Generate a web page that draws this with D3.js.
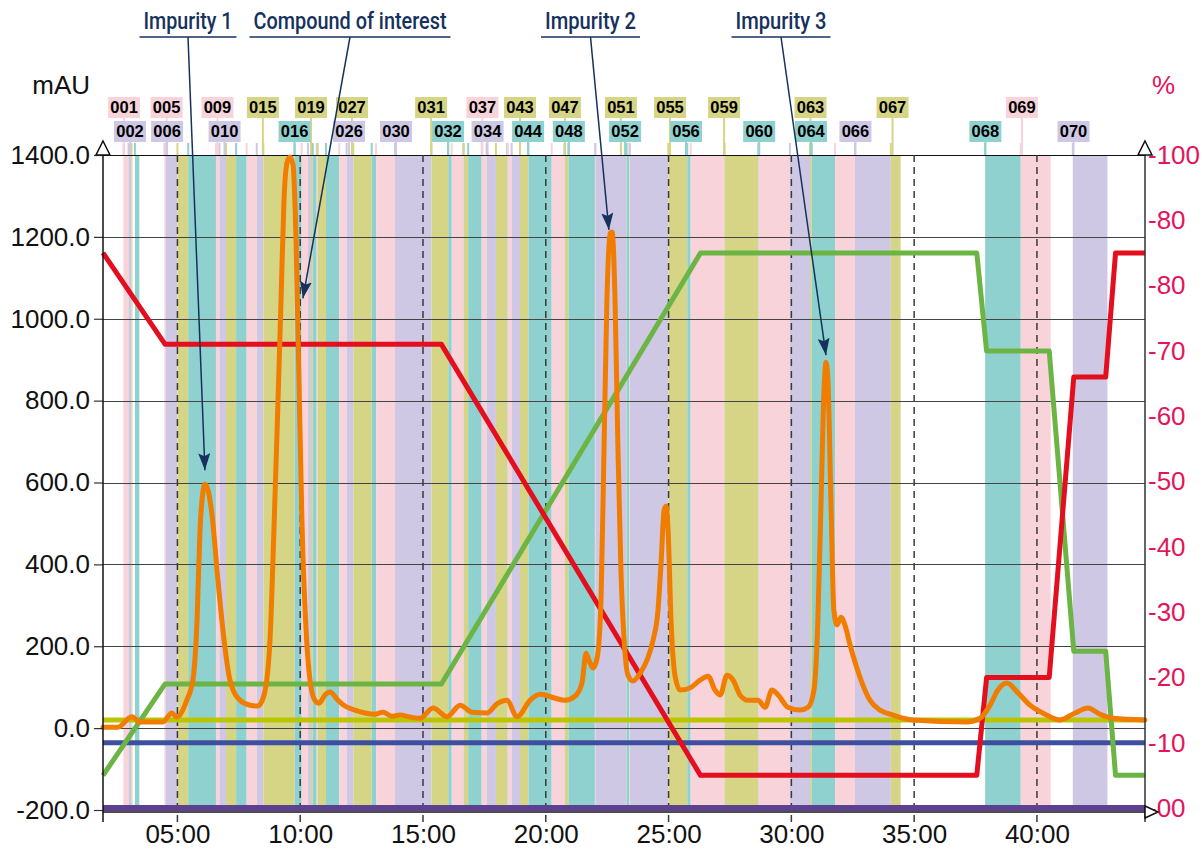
<!DOCTYPE html>
<html><head><meta charset="utf-8">
<script src="https://cdn.jsdelivr.net/npm/d3@7/dist/d3.min.js"></script>
<style>body{margin:0;background:#fff;} svg{display:block;}</style>
</head><body>
<svg id="chart" width="1204" height="849"></svg>
<script>
// ---------------- DATA ----------------
const traceTime = [1.97, 2.58, 3.14, 3.48, 4.41, 4.77, 4.97, 5.38, 5.63, 5.80,
  5.92, 6.04, 6.12, 6.25, 6.41, 6.65, 6.90, 7.14, 7.55, 7.96,
  8.28, 8.53, 8.77, 8.93, 9.06, 9.22, 9.34, 9.47, 9.58, 9.71,
  9.83, 9.95, 10.07, 10.24, 10.40, 10.60, 10.77, 11.01, 11.21, 11.54,
  11.82, 12.23, 12.64, 13.05, 13.37, 13.74, 14.06, 14.47, 14.88, 15.41,
  15.98, 16.51, 16.99, 17.61, 18.01, 18.42, 18.83, 19.36, 19.77, 20.38,
  20.78, 21.19, 21.48, 21.64, 21.76, 21.92, 22.09, 22.25, 22.37, 22.49,
  22.62, 22.70, 22.82, 22.94, 23.06, 23.19, 23.35, 23.55, 23.84, 24.12,
  24.37, 24.57, 24.69, 24.82, 24.90, 24.98, 25.10, 25.26, 25.47, 25.87,
  26.28, 26.61, 26.89, 27.10, 27.38, 27.63, 27.91, 28.24, 28.64, 28.93,
  29.21, 29.46, 29.86, 30.35, 30.68, 30.92, 31.08, 31.21, 31.33, 31.41,
  31.49, 31.61, 31.73, 31.86, 32.02, 32.18, 32.39, 32.63, 32.88, 33.20,
  33.61, 34.02, 34.95, 37.15, 37.68, 38.09, 38.41, 38.78, 39.23, 39.72,
  40.33, 40.94, 41.55, 42.08, 42.57, 43.10, 44.40];
const traceMAU = [2, 2, 28, 15, 15, 37, 27, 68, 117, 264,
  484, 577, 596, 581, 520, 362, 215, 117, 68, 56,
  54, 81, 215, 484, 728, 1046, 1290, 1383, 1395, 1375,
  1192, 850, 508, 239, 117, 68, 61, 81, 88, 68,
  54, 44, 37, 34, 39, 29, 32, 27, 24, 49,
  28, 56, 39, 37, 59, 68, 28, 68, 83, 73,
  68, 78, 112, 183, 166, 147, 171, 313, 679, 1046,
  1209, 1212, 1046, 679, 386, 215, 129, 115, 134, 166,
  215, 288, 398, 533, 542, 484, 264, 129, 93, 98,
  117, 127, 93, 81, 129, 117, 81, 68, 68, 51,
  93, 81, 51, 44, 51, 93, 264, 557, 826, 894,
  850, 557, 288, 252, 271, 252, 203, 154, 110, 68,
  44, 34, 20, 15, 24, 56, 93, 110, 86, 56,
  34, 20, 37, 49, 34, 24, 20];

const gradTime = [1.97, 4.5, 15.75, 26.3, 37.55, 37.95, 40.5, 41.5, 42.8, 43.2, 44.4];
const solventRed = [85, 71, 71, 5, 5, 20, 20, 66, 66, 85, 85];
const solventGreen = [5, 19, 19, 85, 85, 70, 70, 24, 24, 5, 5];

const thresholdMAU = 20;   // yellow-green level line
const blueLevelPct = 10;   // blue level line
const purpleLevelPct = 0;  // purple base line

const fractionStart = [2.80, 3.01, 3.13, 3.27, 4.47, 4.52, 5.00, 5.44, 6.57, 6.71,
  6.98, 7.39, 7.82, 8.23, 8.50, 9.77, 10.06, 10.32, 10.44, 10.51,
  10.67, 10.69, 10.71, 11.05, 11.59, 11.89, 12.16, 12.91, 13.09, 13.86,
  15.35, 16.03, 16.17, 16.64, 16.66, 16.84, 17.39, 17.59, 17.97, 18.43,
  18.45, 18.61, 18.95, 19.29, 20.24, 20.76, 20.78, 20.92, 22.00, 22.02,
  23.27, 23.29, 23.40, 23.42, 24.99, 25.76, 25.90, 27.26, 27.28, 28.65,
  28.67, 29.94, 30.76, 30.83, 31.78, 32.59, 34.05, 37.89, 39.34, 41.46];
const fractionEnd = [3.01, 3.13, 3.17, 3.45, 4.52, 5.00, 5.44, 6.57, 6.71, 6.98,
  7.39, 7.82, 8.23, 8.50, 9.77, 10.06, 10.32, 10.44, 10.51, 10.67,
  10.69, 10.71, 11.05, 11.59, 11.89, 12.16, 12.91, 13.09, 13.86, 15.35,
  16.03, 16.17, 16.64, 16.66, 16.84, 17.39, 17.59, 17.97, 18.43, 18.45,
  18.61, 18.95, 19.29, 20.24, 20.76, 20.78, 20.92, 22.00, 22.02, 23.27,
  23.29, 23.40, 23.42, 24.99, 25.76, 25.90, 27.26, 27.28, 28.65, 28.67,
  29.94, 30.76, 30.83, 31.78, 32.59, 34.05, 34.45, 39.34, 40.56, 42.87];

const labeledFractions = [1, 2, 5, 6, 9, 10, 15, 16, 19, 26, 27, 30, 31, 32, 34, 37, 43, 44,
  47, 48, 51, 52, 55, 56, 59, 60, 63, 64, 66, 67, 68, 69, 70];
const labelTimes = [2.83, 3.07, 4.56, 4.58, 6.63, 6.92, 8.48, 9.77, 10.44, 11.99, 12.11, 13.90,
  15.33, 16.02, 17.63, 17.42, 18.95, 19.28, 20.78, 20.94, 23.06, 23.23, 25.06, 25.71,
  27.26, 28.69, 30.78, 30.80, 32.61, 34.12, 37.90, 39.39, 41.49];

const leftTicks = [1400, 1200, 1000, 800, 600, 400, 200, 0, -200];
const leftTickLabels = ["1400.0", "1200.0", "1000.0", "800.0", "600.0", "400.0", "200.0", "0.0", "-200.0"];
const rightTicks = [100, 90, 80, 70, 60, 50, 40, 30, 20, 10, 0];
const rightTickLabels = ["-100", "-80", "-80", "-70", "-60", "-50", "-40", "-30", "-20", "-10", "-00"];
const xTicks = [5, 10, 15, 20, 25, 30, 35, 40];
const xTickLabels = ["05:00", "10:00", "15:00", "20:00", "25:00", "30:00", "35:00", "40:00"];

const annotationNames = ["Impurity 1", "Compound of interest", "Impurity 2", "Impurity 3"];
const annotationTime = [6.12, 10.11, 22.57, 31.41];
const annotationMAU = [630, 1050, 1217, 911];

// ---------------- LAYOUT / STYLE ----------------
const L = 103, R = 1145, T = 155, B = 812;
const fracColors = ["#f8d3da", "#cfc8e4", "#d6d586", "#8fd1cf"];
const annX = [188, 350, 590.5, 781];
const annW = [89, 193, 91, 91];
const navy = "#16325c";
const crimson = "#e4145c";
const axisFont = "'Liberation Sans', Arial, sans-serif";

const svg = d3.select("#chart");
const x = d3.scaleLinear().domain([1.97, 44.4]).range([L, R]);
const y = d3.scaleLinear().domain([-200, 1400]).range([810, T]);
const yR = d3.scaleLinear().domain([0, 100]).range([808, T]);

// fraction bands
const fr = d3.range(fractionStart.length).map(i => ({n: i + 1, s: fractionStart[i], e: fractionEnd[i]}));
svg.append("g").selectAll("rect").data(fr).join("rect")
  .attr("x", d => x(d.s)).attr("width", d => Math.max(0, x(d.e) - x(d.s)))
  .attr("y", T).attr("height", 810 - T)
  .attr("fill", d => fracColors[(d.n - 1) % 4]);

// short stems at fraction starts
svg.append("g").selectAll("line").data(fr).join("line")
  .attr("x1", d => x(d.s)).attr("x2", d => x(d.s))
  .attr("y1", 143).attr("y2", T)
  .attr("stroke", d => fracColors[(d.n - 1) % 4]).attr("stroke-width", 2);

// labels
const labs = labeledFractions.map((n, i) => ({n, t: labelTimes[i], row: n % 2 === 1 ? 0 : 1}));
const rowTop = [97, 121], boxH = 21, boxW = 32;
svg.append("g").selectAll("line").data(labs).join("line")
  .attr("x1", d => x(d.t)).attr("x2", d => x(d.t))
  .attr("y1", d => rowTop[d.row] + boxH).attr("y2", T)
  .attr("stroke", d => fracColors[(d.n - 1) % 4]).attr("stroke-width", 2);
const lg = svg.append("g").selectAll("g").data(labs.slice().sort((a, b) => a.row - b.row)).join("g");
lg.append("rect")
  .attr("x", d => x(d.t) - boxW / 2).attr("y", d => rowTop[d.row])
  .attr("width", boxW).attr("height", boxH)
  .attr("fill", d => fracColors[(d.n - 1) % 4]);
lg.append("text")
  .attr("x", d => x(d.t)).attr("y", d => rowTop[d.row] + boxH / 2)
  .attr("dy", "0.36em").attr("text-anchor", "middle")
  .attr("font-family", axisFont).attr("font-weight", "bold").attr("font-size", 16.5)
  .attr("fill", "#000").text(d => String(d.n).padStart(3, "0"));

// gridlines
svg.append("g").selectAll("line").data(leftTicks).join("line")
  .attr("x1", L).attr("x2", R).attr("y1", d => Math.round(y(d)) + 0.5).attr("y2", d => Math.round(y(d)) + 0.5)
  .attr("stroke", (d, i) => i === 0 ? "#111" : "#444").attr("stroke-width", 1);

// dashed verticals
svg.append("g").selectAll("line").data(xTicks).join("line")
  .attr("x1", d => x(d)).attr("x2", d => x(d)).attr("y1", T).attr("y2", 822)
  .attr("stroke", "#3a3a3a").attr("stroke-width", 1.5).attr("stroke-dasharray", "7,5");

// level lines
svg.append("line").attr("x1", L).attr("x2", R).attr("y1", y(thresholdMAU)).attr("y2", y(thresholdMAU))
  .attr("stroke", "#bac500").attr("stroke-width", 5);
svg.append("line").attr("x1", L).attr("x2", R).attr("y1", yR(blueLevelPct)).attr("y2", yR(blueLevelPct))
  .attr("stroke", "#3f4f9f").attr("stroke-width", 5);
svg.append("line").attr("x1", L).attr("x2", R).attr("y1", yR(purpleLevelPct)).attr("y2", yR(purpleLevelPct))
  .attr("stroke", "#5e4090").attr("stroke-width", 6);

// gradient lines
const gLine = d3.line().x((d, i) => x(gradTime[i])).y(d => yR(d));
svg.append("path").attr("d", gLine(solventGreen)).attr("fill", "none")
  .attr("stroke", "#6cb545").attr("stroke-width", 5).attr("stroke-linejoin", "round");
svg.append("path").attr("d", gLine(solventRed)).attr("fill", "none")
  .attr("stroke", "#e30f1e").attr("stroke-width", 5).attr("stroke-linejoin", "round");

// chromatogram trace
const tLine = d3.line().x((d, i) => x(traceTime[i])).y(d => y(d)).curve(d3.curveMonotoneX);
svg.append("path").attr("d", tLine(traceMAU)).attr("fill", "none")
  .attr("stroke", "#f07c00").attr("stroke-width", 5).attr("stroke-linejoin", "round").attr("stroke-linecap", "round");

// axes
const axL = svg.append("g").attr("transform", `translate(${L},0)`)
  .call(d3.axisLeft(y).tickValues(leftTicks).tickFormat((d, i) => leftTickLabels[i]).tickSize(9).tickPadding(4).tickSizeOuter(0));
axL.select(".domain").remove();
axL.selectAll(".tick line").attr("stroke", "#333").attr("stroke-width", 1.2);
axL.selectAll("text").attr("font-family", axisFont).attr("font-size", 26).attr("fill", "#111");

const axB = svg.append("g").attr("transform", `translate(0,${B})`)
  .call(d3.axisBottom(x).tickValues(xTicks).tickFormat((d, i) => xTickLabels[i]).tickSize(0).tickPadding(13).tickSizeOuter(0));
axB.select(".domain").remove();
axB.selectAll("text").attr("font-family", axisFont).attr("font-size", 26).attr("fill", "#111");

const axR = svg.append("g").attr("transform", `translate(${R},0)`)
  .call(d3.axisRight(yR).tickValues(rightTicks).tickFormat((d, i) => rightTickLabels[i]).tickSize(0).tickPadding(3).tickSizeOuter(0));
axR.select(".domain").remove();
axR.selectAll("text").attr("font-family", axisFont).attr("font-size", 26).attr("fill", crimson);

// axis lines
svg.append("line").attr("x1", L).attr("x2", L).attr("y1", 148).attr("y2", 822).attr("stroke", "#111").attr("stroke-width", 1.5);
svg.append("line").attr("x1", R).attr("x2", R).attr("y1", 148).attr("y2", 822).attr("stroke", "#333").attr("stroke-width", 1.5);
svg.append("line").attr("x1", L).attr("x2", R).attr("y1", B).attr("y2", B).attr("stroke", "#111").attr("stroke-width", 1.5);
// arrow triangles
[L, R].forEach(px => {
  svg.append("path").attr("d", `M${px},141 L${px + 7},155 L${px - 7},155 Z`)
    .attr("fill", "#fff").attr("stroke", "#111").attr("stroke-width", 1.5);
});
svg.append("path").attr("d", `M${R},806 L${R + 13},${B} L${R},818 Z`)
  .attr("fill", "#fff").attr("stroke", "#111").attr("stroke-width", 1.5);

// axis titles
svg.append("text").attr("x", 90).attr("y", 85).attr("dy", "0.36em").attr("text-anchor", "end")
  .attr("font-family", axisFont).attr("font-size", 26).attr("fill", "#111").text("mAU");
svg.append("text").attr("x", 1152).attr("y", 85).attr("dy", "0.36em")
  .attr("font-family", axisFont).attr("font-size", 26).attr("fill", crimson).text("%");

// annotations
const defs = svg.append("defs");
defs.append("marker").attr("id", "ah").attr("markerUnits", "userSpaceOnUse")
  .attr("markerWidth", 18).attr("markerHeight", 12).attr("refX", 17).attr("refY", 6).attr("orient", "auto")
  .append("path").attr("d", "M0,0 L17,6 L0,12 L3,6 Z").attr("fill", navy);
annotationNames.forEach((name, i) => {
  const g = svg.append("g");
  g.append("text").attr("x", annX[i]).attr("y", 29).attr("text-anchor", "middle")
    .attr("font-family", "Roboto, sans-serif").attr("font-weight", 500).attr("font-size", 24)
    .attr("textLength", annW[i]).attr("lengthAdjust", "spacingAndGlyphs")
    .attr("fill", navy).text(name);
  g.append("line").attr("x1", annX[i] - annW[i] / 2 - 4).attr("x2", annX[i] + annW[i] / 2 + 4)
    .attr("y1", 37).attr("y2", 37).attr("stroke", navy).attr("stroke-width", 1.5);
  g.append("line").attr("x1", annX[i]).attr("y1", 37)
    .attr("x2", x(annotationTime[i])).attr("y2", y(annotationMAU[i]))
    .attr("stroke", navy).attr("stroke-width", 1.5).attr("marker-end", "url(#ah)");
});
</script>
</body></html>
